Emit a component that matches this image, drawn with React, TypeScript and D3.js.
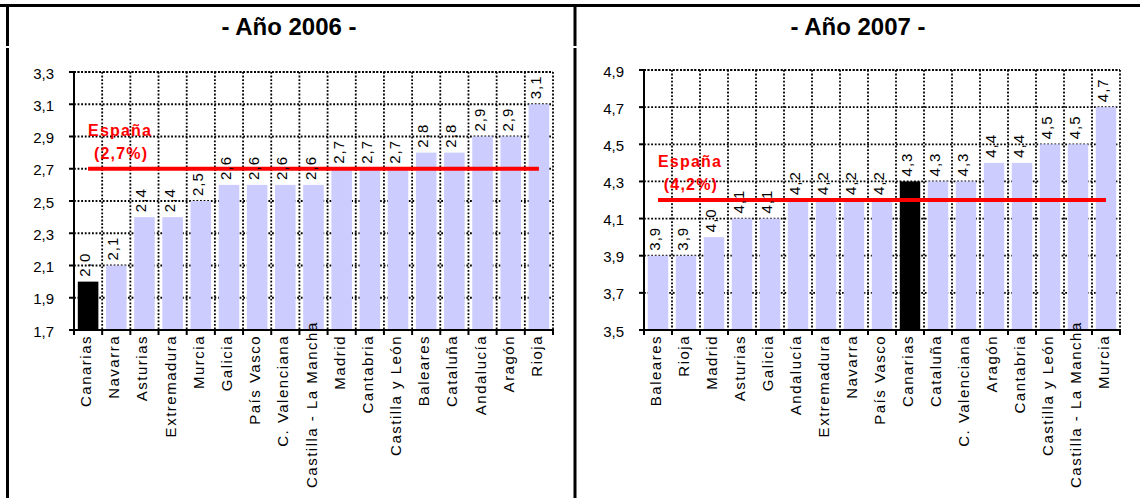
import React, { useEffect, useRef } from "react";
import * as d3 from "d3";

// Regional CPI variation by autonomous community, two yearly panels
const regions2006 = [
  "Canarias", "Navarra", "Asturias", "Extremadura", "Murcia", "Galicia",
  "País Vasco", "C. Valenciana", "Castilla - La Mancha", "Madrid", "Cantabria",
  "Castilla y León", "Baleares", "Cataluña", "Andalucía", "Aragón", "Rioja",
];
const values2006 = [2.0, 2.1, 2.4, 2.4, 2.5, 2.6, 2.6, 2.6, 2.6, 2.7, 2.7, 2.7, 2.8, 2.8, 2.9, 2.9, 3.1];
const ticks2006 = [1.7, 1.9, 2.1, 2.3, 2.5, 2.7, 2.9, 3.1, 3.3];
const spain2006 = 2.7;

const regions2007 = [
  "Baleares", "Rioja", "Madrid", "Asturias", "Galicia", "Andalucía",
  "Extremadura", "Navarra", "País Vasco", "Canarias", "Cataluña",
  "C. Valenciana", "Aragón", "Cantabria", "Castilla y León",
  "Castilla - La Mancha", "Murcia",
];
const values2007 = [3.9, 3.9, 4.0, 4.1, 4.1, 4.2, 4.2, 4.2, 4.2, 4.3, 4.3, 4.3, 4.4, 4.4, 4.5, 4.5, 4.7];
const ticks2007 = [3.5, 3.7, 3.9, 4.1, 4.3, 4.5, 4.7, 4.9];
const spain2007 = 4.2;

const highlighted = "Canarias";

const W = 1140;
const H = 498;
const FONT = "Arial, 'Liberation Sans', sans-serif";
const BAR = "#CCCCFF";
const RED = "#FF0000";

const fmt = (v: number) => v.toFixed(1).replace(".", ",");

type Panel = {
  title: string;
  titleX: number;
  categories: string[];
  values: number[];
  ticks: number[];
  spain: number;
  left: number;
  right: number;
  top: number;
  bottom: number;
};

function drawPanel(svg: d3.Selection<SVGSVGElement, unknown, null, undefined>, p: Panel) {
  const g = svg.append("g");

  g.append("text")
    .attr("x", p.titleX)
    .attr("y", 35)
    .attr("text-anchor", "middle")
    .attr("font-family", FONT)
    .attr("font-weight", "bold")
    .attr("font-size", 24)
    .attr("fill", "#000")
    .text(p.title);

  const x = d3
    .scaleBand<string>()
    .domain(p.categories)
    .range([p.left, p.right])
    .paddingInner(0.27)
    .paddingOuter(0.135);
  const step = x.step();
  const y = d3
    .scaleLinear()
    .domain([p.ticks[0], p.ticks[p.ticks.length - 1]])
    .range([p.bottom, p.top]);

  const dotted = { stroke: "#000", width: 1.8, dash: "1.8 1.8" };
  const dot = (sel: d3.Selection<any, any, any, any>) =>
    sel
      .attr("stroke", dotted.stroke)
      .attr("stroke-width", dotted.width)
      .attr("stroke-dasharray", dotted.dash);

  // horizontal gridlines
  g.append("g")
    .selectAll("line")
    .data(p.ticks.slice(1))
    .join("line")
    .attr("x1", p.left)
    .attr("x2", p.right)
    .attr("y1", (d) => y(d))
    .attr("y2", (d) => y(d))
    .call(dot);

  // vertical gridlines on category boundaries
  const bounds = d3.range(1, p.categories.length + 1).map((i) => p.left + i * step);
  g.append("g")
    .selectAll("line")
    .data(bounds)
    .join("line")
    .attr("x1", (d) => d)
    .attr("x2", (d) => d)
    .attr("y1", p.top)
    .attr("y2", p.bottom)
    .call(dot);

  // bars
  g.append("g")
    .selectAll("rect")
    .data(p.categories)
    .join("rect")
    .attr("x", (d) => x(d)!)
    .attr("width", x.bandwidth())
    .attr("y", (_, i) => y(p.values[i]))
    .attr("height", (_, i) => p.bottom - y(p.values[i]))
    .attr("fill", (d) => (d === highlighted ? "#000" : BAR));

  // national average line
  const cx = (c: string) => x(c)! + x.bandwidth() / 2;
  const first = cx(p.categories[0]);
  const last = cx(p.categories[p.categories.length - 1]);
  g.append("line")
    .attr("x1", first)
    .attr("x2", last)
    .attr("y1", y(p.spain))
    .attr("y2", y(p.spain))
    .attr("stroke", RED)
    .attr("stroke-width", 4);

  const spainLbl = g
    .append("text")
    .attr("text-anchor", "middle")
    .attr("font-family", FONT)
    .attr("font-weight", "bold")
    .attr("font-size", 16)
    .attr("fill", RED)
    .style("letter-spacing", "1.2px");
  spainLbl
    .append("tspan")
    .attr("x", first + 32)
    .attr("y", y(p.spain) - 33)
    .text("España");
  spainLbl
    .append("tspan")
    .attr("x", first + 33)
    .attr("y", y(p.spain) - 10)
    .text(`(${fmt(p.spain)}%)`);

  // value labels
  g.append("g")
    .selectAll("text")
    .data(p.categories)
    .join("text")
    .attr("transform", (d, i) => `translate(${cx(d) + 2},${y(p.values[i]) - 5}) rotate(-90)`)
    .attr("text-anchor", "start")
    .attr("font-family", FONT)
    .attr("font-size", 15)
    .attr("fill", "#000")
    .style("letter-spacing", "1px")
    .text((_, i) => fmt(p.values[i]));

  // category labels, pushed up when too long for the frame
  const catLabels = g
    .append("g")
    .selectAll("text")
    .data(p.categories)
    .join("text")
    .attr("text-anchor", "end")
    .attr("font-family", FONT)
    .attr("font-size", 15)
    .attr("fill", "#000")
    .style("letter-spacing", "1.5px")
    .text((d) => d);
  catLabels.each(function (d) {
    const node = this as SVGTextElement;
    const len = node.getComputedTextLength();
    let top = p.bottom + 5;
    if (top + len > 488) top = 488 - len;
    d3.select(node).attr("transform", `translate(${cx(d) + 3},${top}) rotate(-90)`);
  });

  // top frame of the plot (dotted)
  g.append("line")
    .attr("x1", p.left)
    .attr("x2", p.right)
    .attr("y1", p.top)
    .attr("y2", p.top)
    .call(dot);

  // y axis
  g.append("line")
    .attr("x1", p.left)
    .attr("x2", p.left)
    .attr("y1", p.top)
    .attr("y2", p.bottom + 1)
    .attr("stroke", "#000")
    .attr("stroke-width", 2);
  g.append("g")
    .selectAll("line")
    .data(p.ticks)
    .join("line")
    .attr("x1", p.left - 5)
    .attr("x2", p.left)
    .attr("y1", (d) => y(d))
    .attr("y2", (d) => y(d))
    .attr("stroke", "#000")
    .attr("stroke-width", 2);
  g.append("g")
    .selectAll("text")
    .data(p.ticks)
    .join("text")
    .attr("x", p.left - 20)
    .attr("y", (d) => y(d) + 6.5)
    .attr("text-anchor", "end")
    .attr("font-family", FONT)
    .attr("font-size", 15)
    .attr("fill", "#000")
    .text((d) => fmt(d));

  // x axis
  g.append("line")
    .attr("x1", p.left - 1)
    .attr("x2", p.right + 1)
    .attr("y1", p.bottom)
    .attr("y2", p.bottom)
    .attr("stroke", "#000")
    .attr("stroke-width", 2);
  g.append("g")
    .selectAll("line")
    .data([p.left, ...bounds])
    .join("line")
    .attr("x1", (d) => d)
    .attr("x2", (d) => d)
    .attr("y1", p.bottom)
    .attr("y2", p.bottom + 5)
    .attr("stroke", "#000")
    .attr("stroke-width", 2);
}

export default function App() {
  const ref = useRef<SVGSVGElement>(null);

  useEffect(() => {
    document.body.style.margin = "0";
    const svg = d3.select(ref.current!);
    svg.selectAll("*").remove();

    svg.append("rect").attr("width", W).attr("height", H).attr("fill", "#fff");

    // table frame: top rule, left border and panel divider (split below the header row)
    svg.append("rect").attr("x", 0).attr("y", 4).attr("width", W).attr("height", 3).attr("fill", "#000");
    for (const bx of [6, 573.5]) {
      svg.append("rect").attr("x", bx).attr("y", 4).attr("width", 3).attr("height", 42).attr("fill", "#000");
      svg.append("rect").attr("x", bx).attr("y", 48).attr("width", 3).attr("height", H - 48).attr("fill", "#000");
    }

    drawPanel(svg, {
      title: "- Año 2006 -",
      titleX: 289,
      categories: regions2006,
      values: values2006,
      ticks: ticks2006,
      spain: spain2006,
      left: 74,
      right: 553,
      top: 72,
      bottom: 330,
    });

    drawPanel(svg, {
      title: "- Año 2007 -",
      titleX: 858,
      categories: regions2007,
      values: values2007,
      ticks: ticks2007,
      spain: spain2007,
      left: 644,
      right: 1120,
      top: 70,
      bottom: 330,
    });
  }, []);

  return (
    <svg
      ref={ref}
      width={W}
      height={H}
      style={{ display: "block", position: "absolute", left: 0, top: 0 }}
    />
  );
}
